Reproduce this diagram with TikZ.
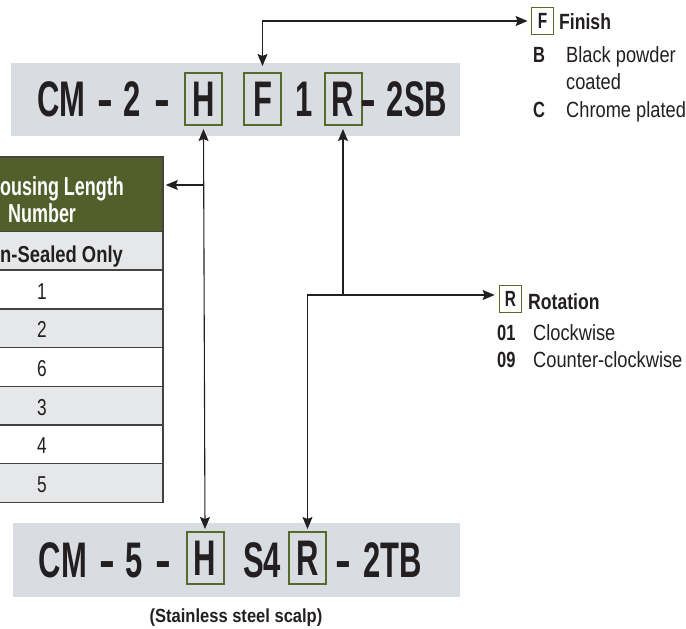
\documentclass[tikz,border=0pt]{standalone}
\usepackage{fontspec}
\setmainfont{Liberation Sans}
\usetikzlibrary{arrows.meta}
\definecolor{band}{HTML}{D9DCE0}
\definecolor{olive}{HTML}{566A2D}
\definecolor{headg}{HTML}{535F2B}
\definecolor{rowg}{HTML}{E6E7E8}
\definecolor{ink}{HTML}{231F20}
\newcommand{\sx}[2]{\scalebox{#1}[1]{#2}}
\tikzset{
  ah/.tip={Stealth[length=12pt,width=10pt,inset=2pt]},
  conn/.style={draw=ink, line width=1.1pt},
  bigtxt/.style={font=\bfseries\fontsize{50}{50}\selectfont, text=ink, inner sep=0pt, anchor=base},
  obox/.style={draw=olive, line width=2pt, inner sep=0pt, minimum width=37pt, minimum height=52pt,
    text height=35.5pt, text depth=0pt, font=\bfseries\fontsize{50}{50}\selectfont, text=ink},
  lbox/.style={draw=olive, line width=1.8pt, inner sep=0pt, minimum width=22pt, minimum height=27pt,
    text height=15.5pt, text depth=0pt, font=\bfseries\fontsize{22}{22}\selectfont, text=ink},
  lbold/.style={font=\bfseries\fontsize{22}{22}\selectfont, text=ink, inner sep=0pt, anchor=base west},
  lreg/.style={font=\fontsize{22}{22}\selectfont, text=ink, inner sep=0pt, anchor=base west},
  cell/.style={draw=ink!85, line width=1.5pt, minimum width=243pt, minimum height=38.7pt, inner sep=0pt},
  digit/.style={font=\fontsize{23}{23}\selectfont, text=ink, inner sep=0pt, anchor=base},
  band/.style={fill=band, draw=none, inner sep=0pt}
}
\begin{document}
\begin{tikzpicture}[x=1pt,y=-1pt]
\useasboundingbox (0,0) rectangle (686,629);
\clip (0,0) rectangle (686,629);

% bands
\node[band, minimum width=449pt, minimum height=73pt] (topband) at (235.5,99.5) {};
\node[band, minimum width=447pt, minimum height=74pt] (botband) at (236.5,560) {};

% top code
\node[bigtxt] (t1) at (61.5,116.5) {\sx{0.62}{CM}};
\node[bigtxt] (t2) at (105,116.5) {\sx{0.95}{-}};
\node[bigtxt] (t3) at (132.5,116.5) {\sx{0.62}{2}};
\node[bigtxt] (t4) at (162,116.5) {\sx{0.95}{-}};
\node[obox] (tH) at (203.5,99) {\sx{0.62}{H}};
\node[obox] (tF) at (262.5,99) {\sx{0.62}{F}};
\node[bigtxt] (t5) at (304,116.5) {\sx{0.62}{1}};
\node[obox] (tR) at (343,99) {\sx{0.62}{R}};
\node[bigtxt] (t6) at (368,116.5) {\sx{0.95}{-}};
\node[bigtxt] (t7) at (417,116.5) {\sx{0.62}{2SB}};

% bottom code
\node[bigtxt] (b1) at (63,577) {\sx{0.62}{CM}};
\node[bigtxt] (b2) at (107,577) {\sx{0.95}{-}};
\node[bigtxt] (b3) at (134,577) {\sx{0.62}{5}};
\node[bigtxt] (b4) at (163,577) {\sx{0.95}{-}};
\node[obox] (bH) at (205,558) {\sx{0.62}{H}};
\node[bigtxt] (b5) at (262,577) {\sx{0.62}{S4}};
\node[obox] (bR) at (307.5,558) {\sx{0.62}{R}};
\node[bigtxt] (b6) at (343,577) {\sx{0.95}{-}};
\node[bigtxt] (b7) at (392.5,577) {\sx{0.62}{2TB}};
\node[font=\bfseries\fontsize{19}{19}\selectfont, text=ink, inner sep=0pt, anchor=base] (sub) at (236,622) {\sx{0.87}{(Stainless steel scalp)}};

% finish legend
\node[lbox] (lF) at (542.5,21) {\sx{0.7}{F}};
\node[lbold] (fin) at (559,29) {\sx{0.8}{Finish}};
\node[lbold] (fB) at (533,62) {\sx{0.75}{B}};
\node[lreg] (fB2) at (566,62) {\sx{0.83}{Black powder}};
\node[lreg] (fB3) at (566,89) {\sx{0.83}{coated}};
\node[lbold] (fC) at (533,117) {\sx{0.75}{C}};
\node[lreg] (fC2) at (566,117) {\sx{0.83}{Chrome plated}};

% rotation legend
\node[lbox] (lR) at (510.5,299) {\sx{0.7}{R}};
\node[lbold] (rot) at (528,309) {\sx{0.8}{Rotation}};
\node[lbold] (r01) at (497,340) {\sx{0.75}{01}};
\node[lreg] (r01b) at (533,340) {\sx{0.83}{Clockwise}};
\node[lbold] (r09) at (497,367) {\sx{0.75}{09}};
\node[lreg] (r09b) at (533,367) {\sx{0.83}{Counter-clockwise}};

% table
\node[cell, fill=headg, minimum height=75pt] (thead) at (41.5,194.5) {};
\node[cell, fill=rowg] (tsub) at (41.5,251) {};
\node[font=\bfseries\fontsize{26}{26}\selectfont, text=white, inner sep=0pt, anchor=base west] (h1) at (0,195) {\sx{0.69}{ousing Length}};
\node[font=\bfseries\fontsize{26}{26}\selectfont, text=white, inner sep=0pt, anchor=base west] (h2) at (8,222) {\sx{0.69}{Number}};
\node[font=\bfseries\fontsize{23}{23}\selectfont, text=ink, inner sep=0pt, anchor=base west] (h3) at (0,262) {\sx{0.8}{n-Sealed Only}};
\foreach \d/\f [count=\i from 0] in {1/white,2/rowg,6/white,3/rowg,4/white,5/rowg}{
  \node[cell, fill=\f] (row\i) at (41.5,289.5+38.7*\i) {};
  \node[digit] (dig\i) at (42,299+38.7*\i) {\sx{0.75}{\d}};
}

% connectors
\draw[conn, ah-ah, shorten >=3pt] ([yshift=6pt]tF.north) |- (lF.west);
\draw[conn, ah-ah] ([yshift=-3pt]tH.south) -- ([yshift=2pt]bH.north);
\coordinate (hj) at (203.5,185);
\draw[conn, -ah, shorten >=2pt] (hj) -- (hj -| thead.east);
\draw[conn, ah-ah, shorten >=4pt] ([yshift=-3pt]tR.south) |- ([yshift=4pt]lR.west);
\coordinate (rj) at (343,295);
\draw[conn, -ah] (rj) -| ([yshift=2pt]bR.north);
\end{tikzpicture}
\end{document}
